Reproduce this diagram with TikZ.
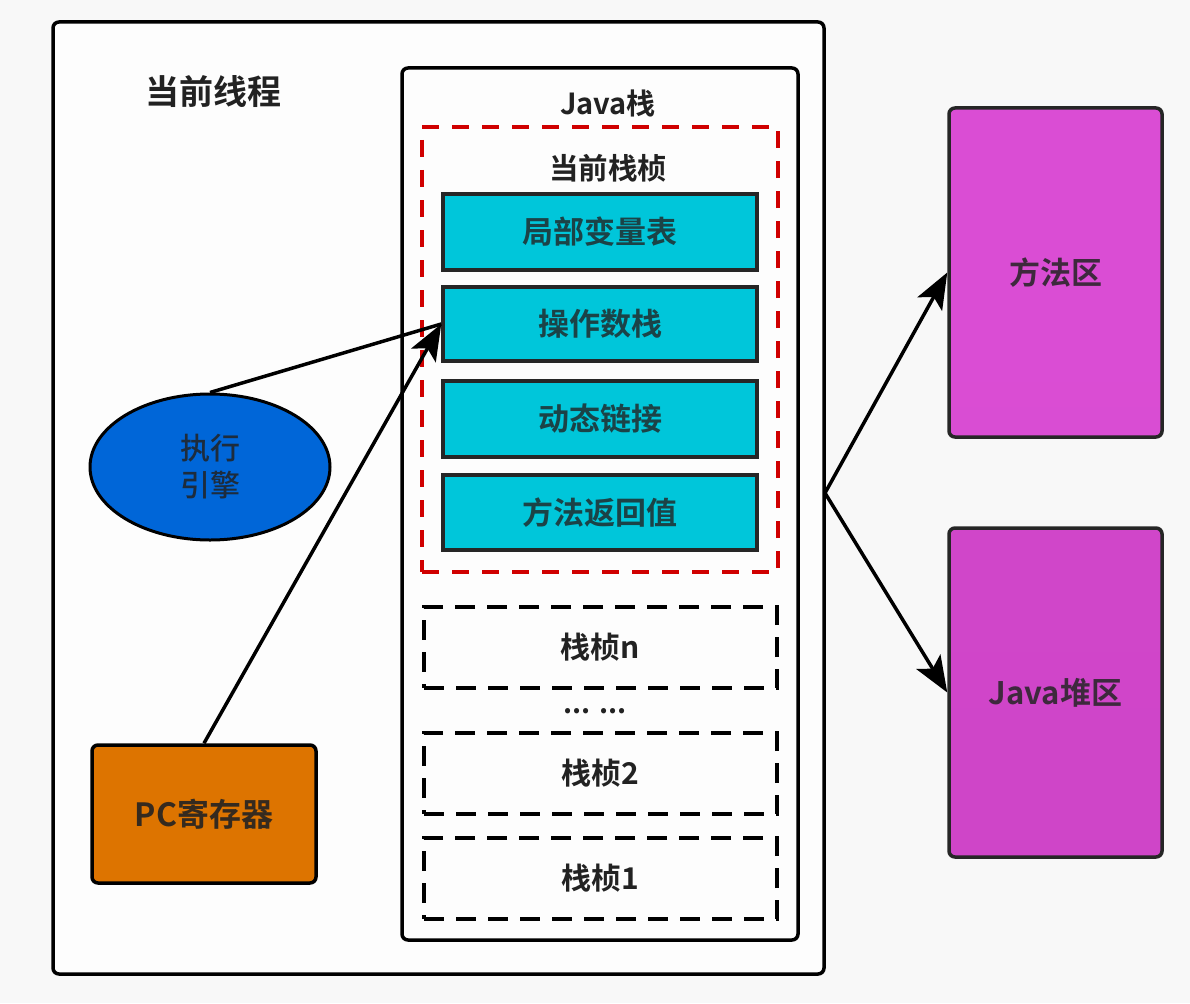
\documentclass[tikz,border=0pt]{standalone}
\usepackage{fontspec}
\setmainfont{Noto Sans CJK SC}[BoldFont={* Bold}]
\newfontfamily\cjkb{Noto Sans CJK SC Bold}
\newfontfamily\cjkm{Noto Sans CJK SC}[UprightFont={* Medium}]
\usetikzlibrary{shapes.geometric,arrows.meta}
\definecolor{bgc}{HTML}{F8F8F8}
\definecolor{innerc}{HTML}{FDFDFD}
\definecolor{txtc}{HTML}{222222}
\definecolor{cyanc}{HTML}{00C6DA}
\definecolor{bluec}{HTML}{0066D8}
\definecolor{orangec}{HTML}{DD7400}
\definecolor{magA}{HTML}{DA4DD4}
\definecolor{magB}{HTML}{CF45C8}
\definecolor{redc}{HTML}{D00000}
\begin{document}
\begin{tikzpicture}[x=1pt,y=-1pt,
  box/.style={draw=black,line width=3.5pt,rounded corners=6pt,inner sep=0pt},
  cellbox/.style={draw=black!85,line width=3.5pt,fill=cyanc,minimum width=314pt,inner sep=0pt,
     font=\cjkb\fontsize{31}{31}\selectfont,text=txtc!80!cyanc},
  framebox/.style={draw=black,line width=3.5pt,dash pattern=on 20pt off 12pt,minimum width=353pt,minimum height=81pt,
     inner sep=0pt,font=\cjkb\fontsize{30}{30}\selectfont,text=txtc},
  areabox/.style={draw=black!85,line width=3.5pt,rounded corners=6pt,minimum width=213pt,minimum height=329pt,
     inner sep=0pt,font=\cjkb\fontsize{31}{31}\selectfont,text=txtc!85!magA},
  lbl/.style={inner sep=0pt,text=txtc},
  arr/.style={line width=3.5pt,-{Stealth[length=36pt,width=28pt,inset=8pt]}}]
\fill[bgc] (0,0) rectangle (1190,1003);
\useasboundingbox (0,0) rectangle (1190,1003);
% outer thread box
\node[box,fill=innerc,minimum width=771pt,minimum height=952pt] (thread) at (438.5,498) {};
\node[lbl,font=\cjkb\fontsize{34}{34}\selectfont] (threadlbl) at (213,92) {当前线程};
% java stack
\node[box,fill=innerc,minimum width=396pt,minimum height=872pt] (jstack) at (600,504) {};
\node[lbl,font=\cjkb\fontsize{29}{29}\selectfont] (jstacklbl) at (608,103) {Java栈};
% current frame
\node[draw=redc,line width=3.5pt,dash pattern=on 17pt off 13pt,minimum width=356pt,minimum height=445pt,inner sep=0pt] (cur) at (600,349.5) {};
\node[lbl,font=\cjkb\fontsize{29.5}{29.5}\selectfont] (curlbl) at (608,168) {当前栈桢};
\node[cellbox,minimum height=76pt] (lv) at (600,232) {局部变量表};
\node[cellbox,minimum height=74pt] (op) at (600,324) {操作数栈};
\node[cellbox,minimum height=76pt] (dl) at (600,419) {动态链接};
\node[cellbox,minimum height=75pt] (rv) at (600,512.5) {方法返回值};
% other frames
\node[framebox] (fn) at (600.5,647.5) {栈桢n};
\node[lbl,font=\cjkb\fontsize{28}{28}\selectfont] (dots) at (595,711) {... ...};
\node[framebox] (f2) at (600.5,773.5) {栈桢2};
\node[framebox] (f1) at (600.5,878.5) {栈桢1};
% engine and pc
\node[ellipse,draw=black,line width=3pt,fill=bluec,minimum width=240pt,minimum height=146pt,inner sep=0pt,
  align=center,font=\cjkm\fontsize{30}{37}\selectfont,text=txtc!85!bluec] (eng) at (210,467) {执行\\引擎};
\node[box,fill=orangec,minimum width=224pt,minimum height=138pt,font=\cjkb\fontsize{32}{32}\selectfont,text=txtc!90!orangec] (pc) at (204,814) {PC寄存器};
% areas
\node[areabox,top color=magA,bottom color=magA!95!magB] (ma) at (1055.5,272.5) {方法区};
\node[areabox,top color=magB!90!magA,bottom color=magB] (heap) at (1055.5,692.5) {Java堆区};
% connectors
\draw[line width=3.5pt] (eng.north) -- (op.west);
\draw[arr] (pc.north) -- (op.west);
\coordinate (split) at (825,493);
\draw[arr] (split) -- (ma.west);
\draw[arr] (split) -- (heap.west);
\end{tikzpicture}
\end{document}
